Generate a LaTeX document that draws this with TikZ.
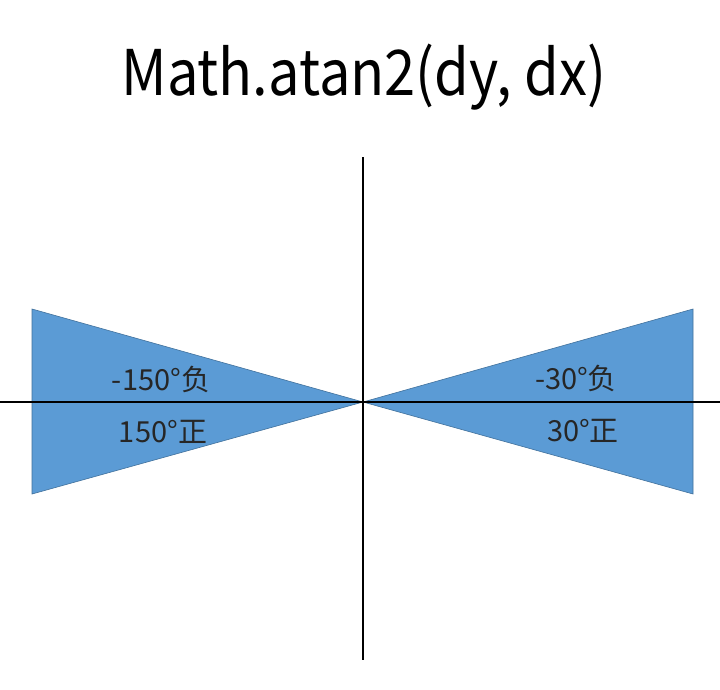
\documentclass[tikz,border=0pt]{standalone}
\usepackage{fontspec}
\setmainfont{Noto Sans CJK SC}
\definecolor{tri}{HTML}{5B9BD5}
\definecolor{triedge}{HTML}{41719C}
\begin{document}
\begin{tikzpicture}[x=1pt,y=-1pt,
  wedge/.style={fill=tri,draw=triedge,line width=0.6pt,line join=miter},
  axis/.style={draw=black,line width=2pt},
  lbl/.style={font=\fontsize{29}{33}\selectfont,anchor=base,inner sep=0pt,text=black!85}]
\useasboundingbox (0,0) rectangle (720,689);
\fill[white] (0,0) rectangle (720,689);
\coordinate (o) at (363,402);
\coordinate (lt) at (32,309);
\coordinate (lb) at (32,494);
\coordinate (rt) at (693,309);
\coordinate (rb) at (693,494);
\path[wedge] (lt) -- (o) -- (lb) -- cycle;
\path[wedge] (rt) -- (o) -- (rb) -- cycle;
\coordinate (xl) at (0,402);
\coordinate (xr) at (720,402);
\coordinate (yt) at (363,157);
\coordinate (yb) at (363,660);
\draw[axis] (xl) -- (xr);
\draw[axis] (yt) -- (yb);
\node[lbl] (ln) at (161,390) {-150°负};
\node[lbl] (lp) at (163,442) {150°正};
\node[lbl] (rn) at (576,389) {-30°负};
\node[lbl] (rp) at (583,441) {30°正};
\node[font=\fontsize{63}{72}\selectfont,anchor=base,inner sep=0pt] (title) at (364,95) {\scalebox{0.89}[1]{Math.atan2(dy, dx)}};
\end{tikzpicture}
\end{document}
